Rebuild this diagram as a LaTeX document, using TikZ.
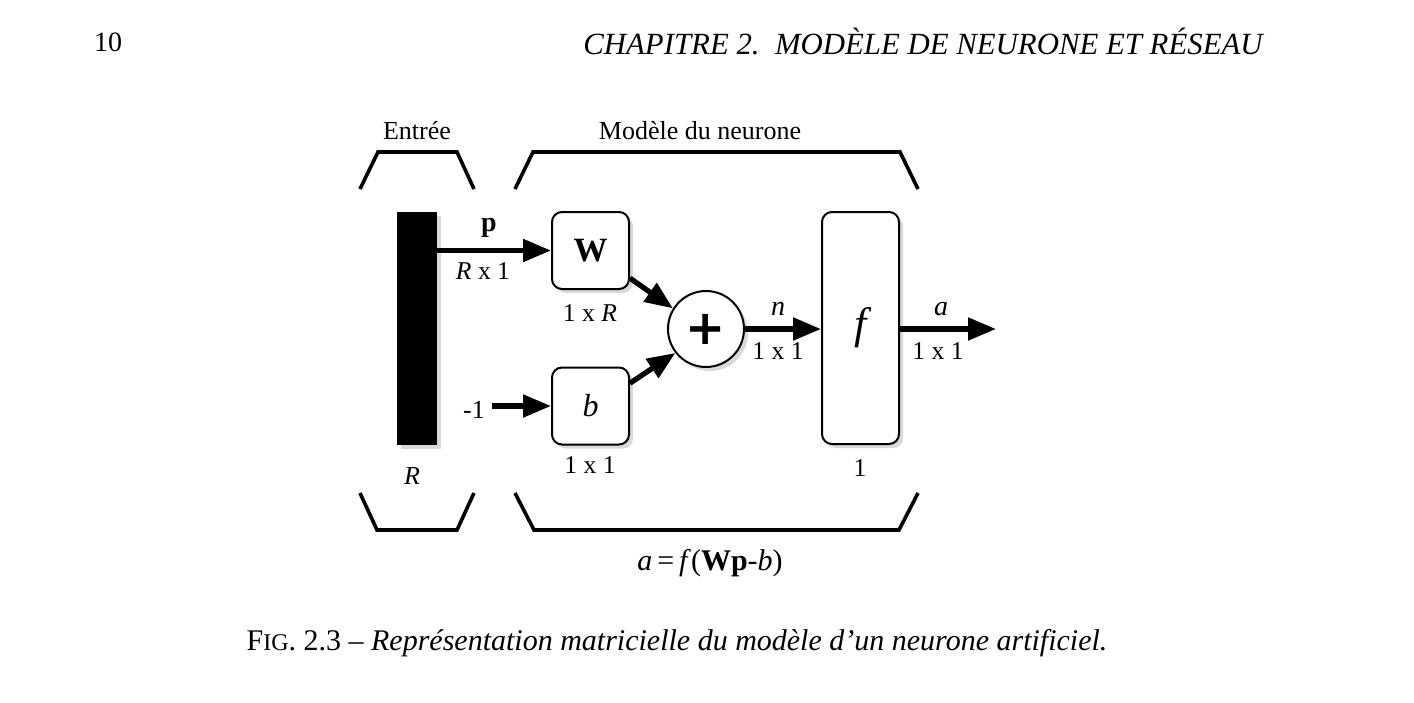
\documentclass[tikz,border=0pt]{standalone}
\usepackage{fontspec}
\setmainfont{Liberation Serif}
\newfontfamily\plusfont{DejaVu Sans}
\usetikzlibrary{
    arrows.meta,
    shadows
}

\begin{document}
\begin{tikzpicture}[x=0.5pt,y=-0.5pt,
    blk/.style={draw, line width=1pt, rounded corners=5pt, fill=white,
        drop shadow={shadow xshift=2pt, shadow yshift=-2pt, opacity=0.3}},
    arr/.style={line width=2.6pt, -{Triangle[length=14pt,width=11pt]}},
    brace/.style={line width=1.8pt},
    lbl/.style={font=\fontsize{12.8}{14}\selectfont}
]
\useasboundingbox (0,0) rectangle (1414,702);

% Page header
\node[font=\fontsize{14}{16}\selectfont] (page) at (108,42) {10};
\node[font=\fontsize{15.4}{17}\selectfont\itshape] (head) at (923,42) {CHAPITRE 2.\ \ MODÈLE DE NEURONE ET RÉSEAU};

% Group titles
\node[lbl, font=\fontsize{13}{15}\selectfont] (tin) at (417,131) {Entrée};
\node[lbl, font=\fontsize{13}{15}\selectfont] (tmod) at (700,131) {Modèle du neurone};

% Brackets
\draw[brace] (360,189) -- (378,152) -- (457,152) -- (474,189);
\draw[brace] (515,189) -- (533,152) -- (900,152) -- (918,189);
\draw[brace] (360,493) -- (377,530) -- (457,530) -- (474,493);
\draw[brace] (515,493) -- (534,530) -- (899,530) -- (918,493);

% Input bar
\node[fill=black, minimum width=20pt, minimum height=116.5pt, inner sep=0pt,
    drop shadow={shadow xshift=2pt, shadow yshift=-2pt, opacity=0.3}] (bar) at (417,328.5) {};
\node[lbl, font=\fontsize{13}{15}\selectfont\itshape] (rin) at (412,476) {R};

% Weight and bias
\node[blk, minimum width=38.5pt, minimum height=38.5pt, font=\fontsize{17}{19}\selectfont\bfseries] (W) at (590.5,250.5) {W};
\node[lbl] (wdim) at (590,313) {1 x \textit{R}};
\node[blk, minimum width=38.5pt, minimum height=38.5pt, font=\fontsize{16}{18}\selectfont\itshape] (b) at (590.5,406) {b};
\node[lbl] (bdim) at (590,465) {1 x 1};
\node[lbl, font=\fontsize{13}{15}\selectfont] (m1) at (474,410) {-1};

% Sum
\node[draw, circle, line width=1pt, fill=white, minimum size=38pt, inner sep=0pt,
    drop shadow={shadow xshift=2pt, shadow yshift=-2pt, opacity=0.3},
    font=\fontsize{24}{26}\plusfont\bfseries] (sum) at (706,329) {+};

% Transfer function
\node[blk, minimum width=38.5pt, minimum height=116pt, font=\fontsize{22}{24}\selectfont\itshape] (f) at (860.5,328) {f};
\node[lbl] (fdim) at (860,468) {1};
\coordinate (out) at (996,329);

% Connections
\draw[arr] (bar.east |- W.west) -- (W.west);
\node[font=\fontsize{14}{16}\selectfont\bfseries] (p) at (489,228) {p};
\node[lbl] (pdim) at (483,271) {\textit{R} x 1};
\draw[arr] (m1.east |- b.west) -- (b.west);
\draw[arr] (W.325) -- (sum.148);
\draw[arr] (b.30) -- (sum.218);
\draw[arr] (sum.east) -- (sum.east -| f.west);
\node[lbl, font=\fontsize{14}{16}\selectfont\itshape] (n) at (778,309) {n};
\node[lbl] (ndim) at (778,351) {1 x 1};
\draw[arr] (f.east |- sum) -- (out);
\node[lbl, font=\fontsize{14}{16}\selectfont\itshape] (a) at (941,309) {a};
\node[lbl] (adim) at (938,351) {1 x 1};

% Formula
\node[font=\fontsize{15}{17}\selectfont] (eq) at (710,563) {\textit{a}\,=\,\textit{f}(\textbf{Wp}-\textit{b})};

% Caption
\node[font=\fontsize{15}{17}\selectfont] (cap) at (677,643)
    {F{\fontsize{12}{14}\selectfont IG}. 2.3 -- \textit{Représentation matricielle du modèle d'un neurone artificiel.}};

\end{tikzpicture}
\end{document}
